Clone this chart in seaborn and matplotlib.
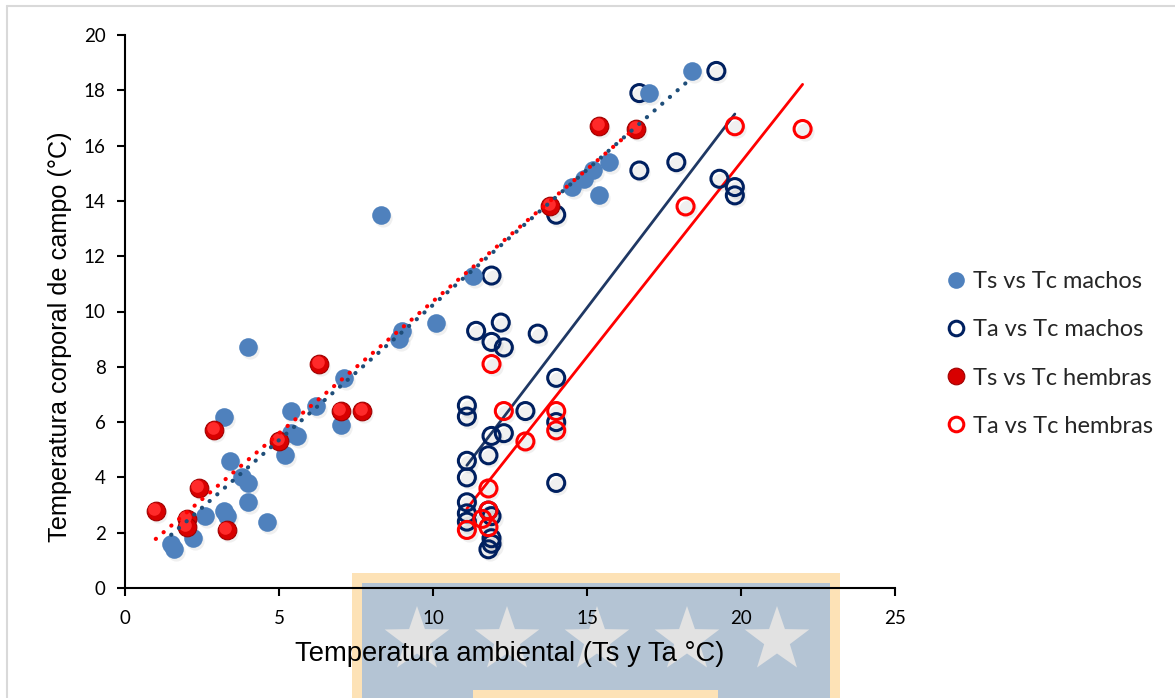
import numpy as np
import pandas as pd
import matplotlib
matplotlib.use("Agg")
import matplotlib.pyplot as plt
import seaborn as sns
from matplotlib.lines import Line2D
from matplotlib.patches import Rectangle
from matplotlib.transforms import offset_copy
from matplotlib.path import Path
from matplotlib.patches import PathPatch

# ---------------- data ----------------
ts_machos_x = [1.5, 1.6, 2.2, 2.6, 3.2, 3.3, 4.6, 4.0, 3.4, 3.8, 4.0, 3.2, 5.2, 5.4, 5.4, 5.6,
               4.0, 6.2, 7.1, 7.0, 8.9, 9.0, 10.1, 8.3, 11.3, 14.5, 14.9, 15.2, 15.4, 15.7, 17.0, 18.4]
ts_machos_y = [1.6, 1.4, 1.8, 2.6, 2.8, 2.6, 2.4, 3.1, 4.6, 4.0, 3.8, 6.2, 4.8, 6.4, 5.6, 5.5,
               8.7, 6.6, 7.6, 5.9, 9.0, 9.3, 9.6, 13.5, 11.3, 14.5, 14.8, 15.1, 14.2, 15.4, 17.9, 18.7]

ta_machos_x = [11.1, 11.1, 11.1, 11.1, 11.1, 11.1, 11.1, 11.4, 11.9, 12.3, 12.2, 13.4, 14.0, 13.0,
               14.0, 11.9, 12.3, 11.8, 14.0, 11.9, 11.8, 11.9, 11.9, 11.8, 11.9, 14.0, 16.7, 17.9,
               16.7, 19.2, 19.3, 19.8, 19.8]
ta_machos_y = [6.6, 6.2, 4.6, 4.0, 3.1, 2.7, 2.4, 9.3, 8.9, 8.7, 9.6, 9.2, 7.6, 6.4,
               6.0, 5.5, 5.6, 4.8, 3.8, 2.6, 2.8, 1.8, 1.6, 1.4, 11.3, 13.5, 15.1, 15.4,
               17.9, 18.7, 14.8, 14.5, 14.2]

ts_hembras_x = [1.0, 2.0, 2.0, 2.4, 3.3, 2.9, 5.0, 6.3, 7.0, 7.7, 13.8, 15.4, 16.6]
ts_hembras_y = [2.8, 2.5, 2.2, 3.6, 2.1, 5.7, 5.3, 8.1, 6.4, 6.4, 13.8, 16.7, 16.6]

ta_hembras_x = [11.9, 12.3, 13.0, 14.0, 14.0, 11.8, 11.8, 11.6, 11.8, 11.1, 18.2, 19.8, 22.0]
ta_hembras_y = [8.1, 6.4, 5.3, 6.4, 5.7, 3.6, 2.8, 2.5, 2.2, 2.1, 13.8, 16.7, 16.6]

labels = ["Ts vs Tc machos", "Ta vs Tc machos", "Ts vs Tc hembras", "Ta vs Tc hembras"]
x_ticks = [0, 5, 10, 15, 20, 25]
y_ticks = [0, 2, 4, 6, 8, 10, 12, 14, 16, 18, 20]
x_label = "Temperatura ambiental (Ts y Ta °C)"
y_label = "Temperatura corporal de campo (°C)"

# ---------------- style ----------------
sns.set_theme(style="white")
plt.rcParams["font.family"] = ["Lato", "DejaVu Sans"]

BLUE = "#4F81BD"
NAVY = "#002060"
NAVY_LINE = "#1F3864"
RED = "#FF0000"
DOT_BLUE = "#1F4E79"

W, H = 1175, 698
fig = plt.figure(figsize=(W / 100, H / 100), dpi=100)
fig.patch.set_facecolor("white")


def fx(px):
    return px / W


def fy(py):
    return 1 - py / H


# ---------------- watermark (drawn beneath the axes) ----------------
wm = []
wm.append(Rectangle((fx(352), 0), fx(840) - fx(352), fy(573), facecolor="#FDE2B6", edgecolor="none"))
wm.append(Rectangle((fx(362), 0), fx(830) - fx(362), fy(583), facecolor="#B4C4D4", edgecolor="none"))
wm.append(Rectangle((fx(473), 0), fx(718) - fx(473), fy(690), facecolor="#FDE2B6", edgecolor="none"))
for cx in [417, 507, 597, 687, 777]:
    cy = 640
    r_out, r_in = 34, 13.5
    verts = []
    for k in range(10):
        ang = np.pi / 2 + k * np.pi / 5
        r = r_out if k % 2 == 0 else r_in
        verts.append((fx(cx + r * np.cos(ang)), fy(cy - r * np.sin(ang))))
    verts.append(verts[0])
    codes = [Path.MOVETO] + [Path.LINETO] * 9 + [Path.CLOSEPOLY]
    wm.append(PathPatch(Path(verts, codes), facecolor="#E2E2E2", edgecolor="none"))
for p in wm:
    p.set_transform(fig.transFigure)
    p.set_zorder(-5)
    fig.patches.append(p)

# light chart-area border (left and top)
fig.add_artist(Line2D([fx(7), fx(7)], [0, fy(6)], transform=fig.transFigure, color="#D9D9D9", lw=1.5, zorder=-4))
fig.add_artist(Line2D([fx(7), 1], [fy(6), fy(6)], transform=fig.transFigure, color="#D9D9D9", lw=1.5, zorder=-4))

# ---------------- axes ----------------
ax = fig.add_axes([fx(125), fy(588), fx(895) - fx(125), fy(35) - fy(588)])
ax.set_zorder(2)
ax.patch.set_alpha(0)

df_tsm = pd.DataFrame({"x": ts_machos_x, "y": ts_machos_y})
df_tam = pd.DataFrame({"x": ta_machos_x, "y": ta_machos_y})
df_tsh = pd.DataFrame({"x": ts_hembras_x, "y": ts_hembras_y})
df_tah = pd.DataFrame({"x": ta_hembras_x, "y": ta_hembras_y})

S = 150
shadow_tr = offset_copy(ax.transData, fig=fig, x=2, y=-3, units="dots")
for d in [df_tsm, df_tam, df_tsh, df_tah]:
    sns.scatterplot(data=d, x="x", y="y", ax=ax, s=S * 1.15, color="#000000", alpha=0.06,
                    linewidth=0, transform=shadow_tr, zorder=1, legend=False)

# open circles
sns.scatterplot(data=df_tam, x="x", y="y", ax=ax, s=S, facecolor="none", edgecolor=NAVY,
                linewidth=2.2, zorder=3, legend=False)
sns.scatterplot(data=df_tah, x="x", y="y", ax=ax, s=S, facecolor="none", edgecolor=RED,
                linewidth=2.2, zorder=3, legend=False)
# filled blue
sns.scatterplot(data=df_tsm, x="x", y="y", ax=ax, s=S * 1.2, color=BLUE, linewidth=0,
                zorder=4, legend=False)
# red spheres
sns.scatterplot(data=df_tsh, x="x", y="y", ax=ax, s=S * 1.2, color="#D80000", edgecolor="#A00000",
                linewidth=0.8, zorder=5, legend=False)
hl_tr = offset_copy(ax.transData, fig=fig, x=-1.5, y=2, units="dots")
sns.scatterplot(data=df_tsh, x="x", y="y", ax=ax, s=S * 0.55, color="#FF2A2A", linewidth=0,
                zorder=6, legend=False, transform=hl_tr)

# trend lines
dot_style = dict(linestyle=(0, (0.05, 2.4)), dash_capstyle="round", lw=3.0)
sns.regplot(data=df_tsh, x="x", y="y", ax=ax, scatter=False, ci=None, truncate=True,
            line_kws=dict(color=RED, zorder=7, **dot_style))
sns.regplot(data=df_tsm, x="x", y="y", ax=ax, scatter=False, ci=None, truncate=True,
            line_kws=dict(color=DOT_BLUE, zorder=7, **dot_style))
sns.regplot(data=df_tam, x="x", y="y", ax=ax, scatter=False, ci=None, truncate=True,
            line_kws=dict(color=NAVY_LINE, lw=2.0, zorder=2))
sns.regplot(data=df_tah, x="x", y="y", ax=ax, scatter=False, ci=None, truncate=True,
            line_kws=dict(color=RED, lw=2.0, zorder=2))

ax.set_xlim(0, 25)
ax.set_ylim(0, 20)
ax.set_xticks(x_ticks)
ax.set_yticks(y_ticks)
ax.set_xticklabels([str(t) for t in x_ticks])
ax.set_yticklabels([str(t) for t in y_ticks])
ax.tick_params(axis="both", which="both", direction="out", length=6, width=1.5, color="black",
               labelsize=13.5, labelcolor="black", bottom=True, left=True, pad=8)
ax.tick_params(axis="x", pad=10)
for side in ["top", "right"]:
    ax.spines[side].set_visible(False)
for side in ["left", "bottom"]:
    ax.spines[side].set_color("black")
    ax.spines[side].set_linewidth(1.5)

ax.set_xlabel(x_label, fontsize=19.7, family=["Liberation Sans", "DejaVu Sans"], labelpad=10, color="black")
ax.set_ylabel(y_label, fontsize=18.2, family=["Liberation Sans", "DejaVu Sans"], color="black")
ax.yaxis.set_label_coords(-0.069, 0.455)

# legend
handles = [
    Line2D([], [], linestyle="none", marker="o", markersize=12, markerfacecolor=BLUE, markeredgewidth=0),
    Line2D([], [], linestyle="none", marker="o", markersize=10.5, markerfacecolor="none",
           markeredgecolor=NAVY, markeredgewidth=2.2),
    Line2D([], [], linestyle="none", marker="o", markersize=12, markerfacecolor="#D80000",
           markeredgecolor="#A00000", markeredgewidth=0.8),
    Line2D([], [], linestyle="none", marker="o", markersize=10.5, markerfacecolor="none",
           markeredgecolor=RED, markeredgewidth=2.2),
]
leg = fig.legend(handles, labels, loc="center left", bbox_to_anchor=(fx(945), fy(354)), frameon=False,
                 fontsize=17, handlelength=0.9, handletextpad=0.3, labelspacing=1.15, borderpad=0,
                 borderaxespad=0)
leg.set_zorder(3)

fig.savefig("out.png", dpi=100)
